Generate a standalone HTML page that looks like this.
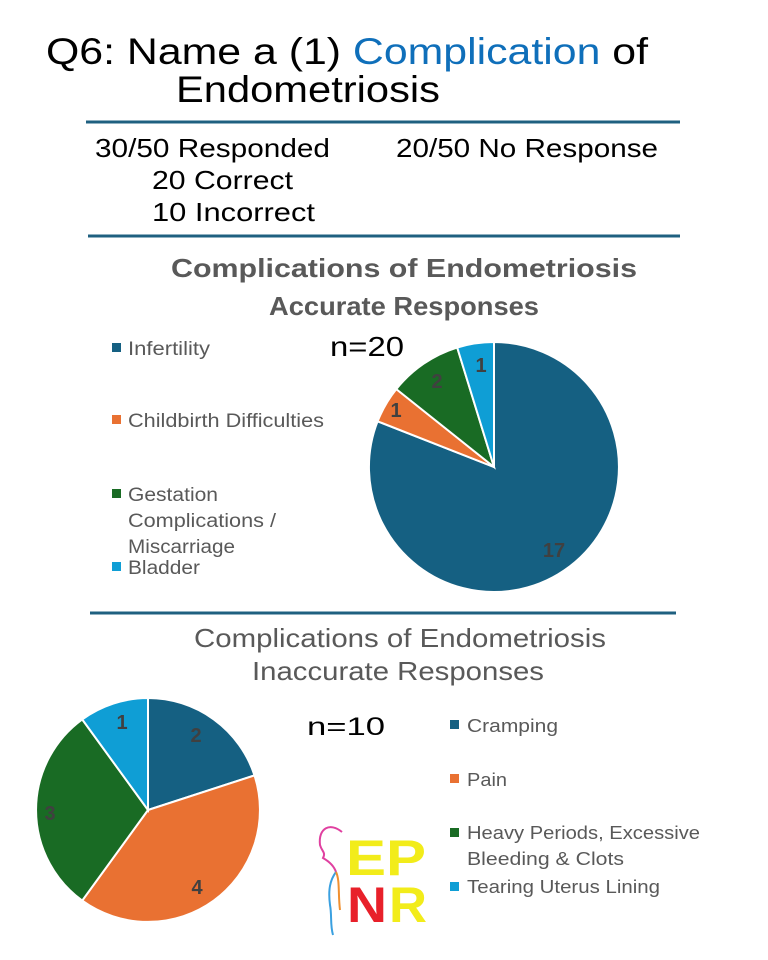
<!DOCTYPE html>
<html><head><meta charset="utf-8"><style>html,body{margin:0;padding:0;background:#fff}svg{display:block}</style></head>
<body>
<svg width="768" height="960" viewBox="0 0 768 960" xmlns="http://www.w3.org/2000/svg" font-family="'Liberation Sans', 'DejaVu Sans', sans-serif">
<rect width="768" height="960" fill="#fff"/>
<text x="46" y="64" font-size="37" fill="#000" textLength="602" lengthAdjust="spacingAndGlyphs">Q6: Name a (1) <tspan fill="#0f6fba">Complication</tspan> of</text>
<text x="176" y="102" font-size="37" fill="#000" textLength="264" lengthAdjust="spacingAndGlyphs">Endometriosis</text>
<line x1="86" y1="122" x2="680" y2="122" stroke="#1f6080" stroke-width="3"/>
<text x="95" y="157" font-size="26" textLength="235" lengthAdjust="spacingAndGlyphs">30/50 Responded</text>
<text x="396" y="157" font-size="26" textLength="262" lengthAdjust="spacingAndGlyphs">20/50 No Response</text>
<text x="152" y="189" font-size="26" textLength="141" lengthAdjust="spacingAndGlyphs">20 Correct</text>
<text x="152" y="221" font-size="26" textLength="163" lengthAdjust="spacingAndGlyphs">10 Incorrect</text>
<line x1="88" y1="236" x2="680" y2="236" stroke="#1f6080" stroke-width="3"/>
<text x="404" y="277" font-size="26" font-weight="bold" fill="#595959" text-anchor="middle" textLength="466" lengthAdjust="spacingAndGlyphs">Complications of Endometriosis</text>
<text x="404" y="315" font-size="26" font-weight="bold" fill="#595959" text-anchor="middle" textLength="270" lengthAdjust="spacingAndGlyphs">Accurate Responses</text>
<text x="330" y="356" font-size="28" fill="#000" textLength="74" lengthAdjust="spacingAndGlyphs">n=20</text>
<g font-size="19" fill="#595959">
<rect x="112" y="343" width="9" height="9" fill="#156082"/><text x="128" y="355" textLength="82" lengthAdjust="spacingAndGlyphs">Infertility</text>
<rect x="112" y="415" width="9" height="9" fill="#e97132"/><text x="128" y="427" textLength="196" lengthAdjust="spacingAndGlyphs">Childbirth Difficulties</text>
<rect x="112" y="489" width="9" height="9" fill="#196b24"/><text x="128" y="501" textLength="90" lengthAdjust="spacingAndGlyphs">Gestation</text><text x="128" y="527" textLength="148" lengthAdjust="spacingAndGlyphs">Complications /</text><text x="128" y="553" textLength="107" lengthAdjust="spacingAndGlyphs">Miscarriage</text>
<rect x="112" y="562" width="9" height="9" fill="#0f9ed5"/><text x="128" y="574" textLength="72" lengthAdjust="spacingAndGlyphs">Bladder</text>
</g>
<g stroke="#fff" stroke-width="2">
<path d="M494 467 L494 342 A125 125 0 1 1 377.6 421.3 Z" fill="#156082"/>
<path d="M494 467 L377.6 421.3 A125 125 0 0 1 396.3 389.1 Z" fill="#e97132"/>
<path d="M494 467 L396.3 389.1 A125 125 0 0 1 457.2 347.5 Z" fill="#196b24"/>
<path d="M494 467 L457.2 347.5 A125 125 0 0 1 494 342 Z" fill="#0f9ed5"/>
</g>
<g font-size="20" font-weight="bold" fill="#404040" text-anchor="middle">
<text x="554" y="557">17</text><text x="396" y="417">1</text><text x="437" y="388">2</text><text x="481" y="372">1</text>
</g>
<line x1="90" y1="613" x2="676" y2="613" stroke="#1f6080" stroke-width="3"/>
<text x="400" y="647" font-size="26" fill="#595959" text-anchor="middle" textLength="412" lengthAdjust="spacingAndGlyphs">Complications of Endometriosis</text>
<text x="398" y="680" font-size="26" fill="#595959" text-anchor="middle" textLength="292" lengthAdjust="spacingAndGlyphs">Inaccurate Responses</text>
<text x="307" y="735" font-size="25" fill="#000" textLength="78" lengthAdjust="spacingAndGlyphs">n=10</text>
<g stroke="#fff" stroke-width="2">
<path d="M148 810 L148 698 A112 112 0 0 1 254.5 775.4 Z" fill="#156082"/>
<path d="M148 810 L254.5 775.4 A112 112 0 0 1 82.2 900.6 Z" fill="#e97132"/>
<path d="M148 810 L82.2 900.6 A112 112 0 0 1 82.2 719.4 Z" fill="#196b24"/>
<path d="M148 810 L82.2 719.4 A112 112 0 0 1 148 698 Z" fill="#0f9ed5"/>
</g>
<g font-size="20" font-weight="bold" fill="#404040" text-anchor="middle">
<text x="196" y="742">2</text><text x="197" y="894">4</text><text x="50" y="820">3</text><text x="122" y="729">1</text>
</g>
<g font-size="18" fill="#595959">
<rect x="450" y="720" width="9" height="9" fill="#156082"/><text x="467" y="732" textLength="91" lengthAdjust="spacingAndGlyphs">Cramping</text>
<rect x="450" y="774" width="9" height="9" fill="#e97132"/><text x="467" y="786" textLength="40" lengthAdjust="spacingAndGlyphs">Pain</text>
<rect x="450" y="828" width="9" height="9" fill="#196b24"/><text x="467" y="839" textLength="233" lengthAdjust="spacingAndGlyphs">Heavy Periods, Excessive</text>
<text x="467" y="865" textLength="157" lengthAdjust="spacingAndGlyphs">Bleeding  &amp; Clots</text>
<rect x="450" y="882" width="9" height="9" fill="#0f9ed5"/><text x="467" y="893" textLength="193" lengthAdjust="spacingAndGlyphs">Tearing Uterus Lining</text>
</g>
<g>
<path d="M342 832 C330 822 318 828 320 845 C322 852 326 852 323 858 C330 862 334 866 336 872" fill="none" stroke="#e040a0" stroke-width="2"/>
<path d="M336 872 C330 880 328 890 330 905 C332 915 330 925 333 935" fill="none" stroke="#3aa0e0" stroke-width="2"/>
<path d="M336 872 C340 880 338 895 340 910" fill="none" stroke="#f09030" stroke-width="2"/>
<text x="346" y="875" font-size="50" font-weight="bold" fill="#f2ec1a" textLength="80" lengthAdjust="spacingAndGlyphs">EP</text>
<text x="347" y="922" font-size="50" font-weight="bold" fill="#e8202a" textLength="40" lengthAdjust="spacingAndGlyphs">N</text>
<text x="389" y="922" font-size="50" font-weight="bold" fill="#f2ec1a" textLength="38" lengthAdjust="spacingAndGlyphs">R</text>
</g>
</svg>
</body></html>
